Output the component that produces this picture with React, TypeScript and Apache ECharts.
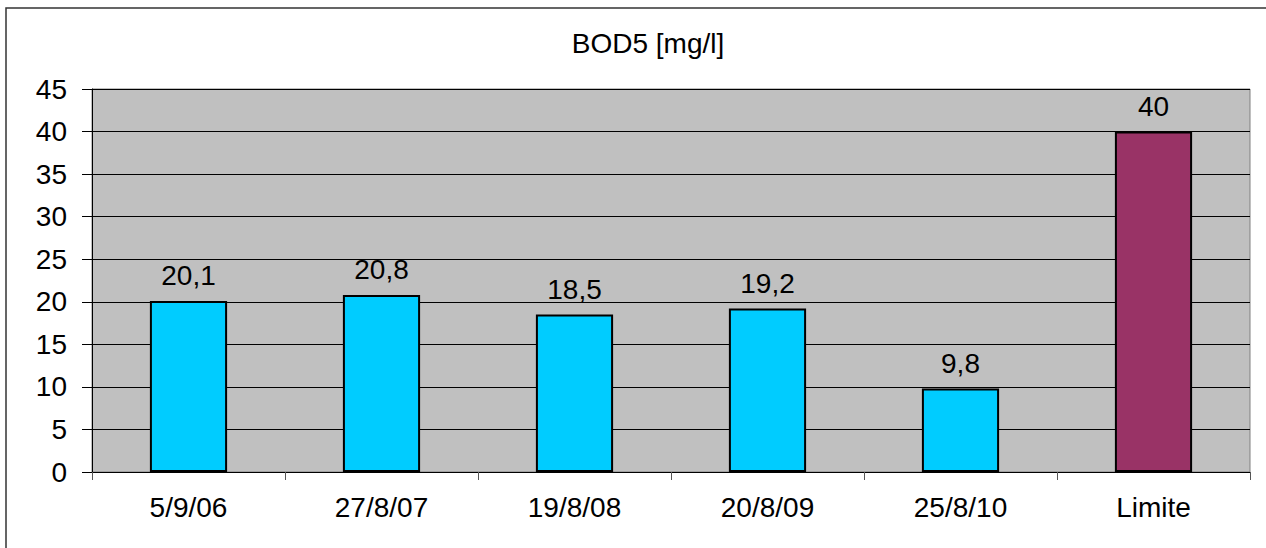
import React, { useEffect, useRef } from "react";
import * as echarts from "echarts";

const categories = ["5/9/06", "27/8/07", "19/8/08", "20/8/09", "25/8/10", "Limite"];
const values = [20.1, 20.8, 18.5, 19.2, 9.8, 40];
const barColors = ["#00CCFF", "#00CCFF", "#00CCFF", "#00CCFF", "#00CCFF", "#993366"];
const titleText = "BOD5 [mg/l]";

const FONT = "'Liberation Sans', Arial, sans-serif";
const FS = 28;

export default function App() {
  const ref = useRef<HTMLDivElement>(null);
  useEffect(() => {
    if (!ref.current) return;
    const chart = echarts.init(ref.current, null, { renderer: "svg" });
    chart.setOption({
      animation: false,
      backgroundColor: "#ffffff",
      textStyle: { fontFamily: FONT },
      title: {
        text: titleText,
        left: 643,
        top: 24,
        textAlign: "center",
        textStyle: { fontFamily: FONT, fontSize: FS, fontWeight: "normal", color: "#000" },
      },
      graphic: [
        {
          type: "rect",
          shape: { x: 6, y: 8, width: 1300, height: 600 },
          style: { fill: "none", stroke: "#333333", lineWidth: 1.5 },
          silent: true,
          z: 100,
        },
      ],
      grid: {
        left: 92,
        top: 89,
        right: 16,
        bottom: 76,
        show: true,
        backgroundColor: "#C0C0C0",
        borderColor: "#808080",
        borderWidth: 1,
      },
      xAxis: {
        type: "category",
        data: categories,
        axisLine: { show: true, lineStyle: { color: "#000", width: 1 } },
        axisTick: { show: true, length: 8, lineStyle: { color: "#555" }, alignWithLabel: false },
        axisLabel: { color: "#000", fontSize: FS, fontFamily: FONT, margin: 21 },
        splitLine: { show: false },
      },
      yAxis: {
        type: "value",
        min: 0,
        max: 45,
        interval: 5,
        axisLine: { show: true, lineStyle: { color: "#000", width: 1 } },
        axisTick: { show: true, length: 10, lineStyle: { color: "#000" } },
        axisLabel: { color: "#000", fontSize: FS, fontFamily: FONT, margin: 25 },
        splitLine: { show: true, lineStyle: { color: "#000", width: 1 } },
      },
      series: [
        {
          type: "bar",
          barWidth: "40%",
          data: values.map((v, i) => ({
            value: v,
            itemStyle: { color: barColors[i], borderColor: "#000", borderWidth: 2 },
          })),
          label: {
            show: true,
            position: "top",
            distance: 11,
            color: "#000",
            fontSize: FS,
            fontFamily: FONT,
            formatter: (p: any) => String(p.value).replace(".", ","),
          },
        },
      ],
    });
    return () => chart.dispose();
  }, []);
  return (
    <div
      ref={ref}
      style={{ position: "absolute", left: 0, top: 0, width: 1266, height: 548 }}
    />
  );
}
